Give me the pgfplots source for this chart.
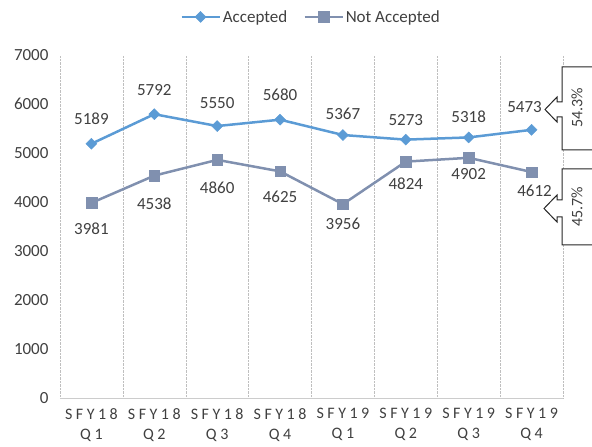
\documentclass[border=0pt]{standalone}
\usepackage{fontspec}
\setmainfont{Carlito}
\newfontfamily\spacedfont[LetterSpace=22]{Carlito}
\usepackage{pgfplots}
\usepackage{pgfplotstable}
\pgfplotsset{compat=1.18}

\definecolor{acc}{RGB}{91,155,213}
\definecolor{nacc}{RGB}{128,144,175}
\definecolor{txt}{RGB}{64,64,64}

% x = quarter index, dy/dx = label offset from the point
\pgfplotstableread{
x y dy dx
0 5189 25 0
1 5792 24 0
2 5550 23 0
3 5680 25 0
4 5367 21 0
5 5273 20 0
6 5318 21 0
7 5473 23 -7
}\acctable

\pgfplotstableread{
x y dy dx
0 3981 -26 0
1 4538 -28 0
2 4860 -28 0
3 4625 -25 0
4 3956 -20 0
5 4824 -22 0
6 4902 -16 0
7 4612 -19 3
}\nacctable

\begin{document}
\begin{tikzpicture}
\useasboundingbox (-60pt,-49pt) rectangle (532pt,398pt);
\clip (-60pt,-49pt) rectangle (532pt,398pt);
\begin{axis}[
  at={(0pt,0pt)}, anchor=south west,
  scale only axis, width=503pt, height=343pt,
  xmin=-0.5, xmax=7.5, ymin=0, ymax=7000,
  ytick={0,1000,...,7000},
  xtick={0,...,7},
  xticklabels={{SFY18\\Q1},{SFY18\\Q2},{SFY18\\Q3},{SFY18\\Q4},{SFY19\\Q1},{SFY19\\Q2},{SFY19\\Q3},{SFY19\\Q4}},
  minor xtick={-0.5,0.5,...,7.5},
  xminorgrids,
  minor grid style={gray!50, densely dotted},
  major tick length=0pt, minor tick length=0pt,
  axis x line*=bottom, axis y line*=left,
  x axis line style={gray!40, -},
  y axis line style={draw=none},
  /pgf/number format/assume math mode=true,
  /pgf/number format/1000 sep={},
  scaled y ticks=false,
  yticklabel style={font=\fontsize{17}{20}\selectfont, text=txt, xshift=-8pt},
  xticklabel style={font=\spacedfont\fontsize{16}{20}\selectfont, text=txt, align=center, yshift=-7pt},
  legend style={at={(0.499,1.111)}, anchor=center, draw=none, fill=none,
    font=\fontsize{17}{20}\selectfont, text=txt,
    /tikz/every even column/.append style={column sep=14pt}},
  legend columns=2,
  legend cell align=left,
  legend image code/.code={\draw[mark repeat=2, mark phase=2, #1] plot coordinates {(0pt,0pt) (19pt,0pt) (38pt,0pt)};},
  clip=false,
]

\addplot[acc, line width=2.5pt, mark=square*, mark size=3.9pt,
  mark options={rotate=45, solid, fill=acc, line width=0.4pt},
  visualization depends on={\thisrow{dy} \as \dy},
  visualization depends on={\thisrow{dx} \as \dx},
  point meta=explicit symbolic,
  nodes near coords,
  nodes near coords style={anchor=center, yshift=\dy pt, xshift=\dx pt, text=txt, font=\fontsize{17}{20}\selectfont}]
  table[x=x, y=y, meta=y]{\acctable};
\addlegendentry{Accepted}

\addplot[nacc, line width=2.5pt, mark=square*, mark size=5.3pt,
  mark options={solid, fill=nacc, line width=0.4pt},
  visualization depends on={\thisrow{dy} \as \dy},
  visualization depends on={\thisrow{dx} \as \dx},
  point meta=explicit symbolic,
  nodes near coords,
  nodes near coords style={anchor=center, yshift=\dy pt, xshift=\dx pt, text=txt, font=\fontsize{17}{20}\selectfont}]
  table[x=x, y=y, meta=y]{\nacctable};
\addlegendentry{Not Accepted}
\end{axis}

% callout boxes on the right
\draw[black!85, line width=1pt, fill=white]
  (560pt,331pt) -- (502pt,331pt) -- (502pt,296pt) -- (497pt,296pt) -- (497pt,301pt)
  -- (485pt,288.5pt) -- (497pt,276pt) -- (497pt,281pt) -- (502pt,281pt)
  -- (502pt,248pt) -- (560pt,248pt);
\draw[black!85, line width=1pt, fill=white]
  (560pt,229pt) -- (502pt,229pt) -- (502pt,198pt) -- (497pt,198pt) -- (497pt,203pt)
  -- (484pt,189.5pt) -- (497pt,176pt) -- (497pt,181pt) -- (502pt,181pt)
  -- (502pt,153pt) -- (560pt,153pt);
\node[rotate=90, text=txt, font=\fontsize{16}{19}\selectfont] at (517pt,290pt) {54.3\%};
\node[rotate=90, text=txt, font=\fontsize{16}{19}\selectfont] at (517pt,191pt) {45.7\%};
\end{tikzpicture}
\end{document}
